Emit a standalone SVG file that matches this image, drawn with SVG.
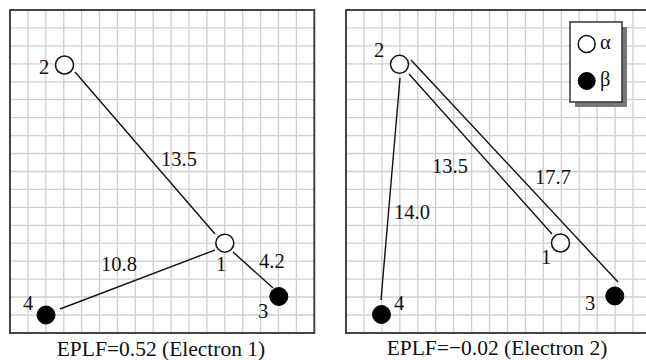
<svg xmlns="http://www.w3.org/2000/svg" width="646" height="360" viewBox="0 0 646 360">
<style>
.grid{stroke:#cfcfcf;stroke-width:1.3;fill:none}
.frame{stroke:#444;stroke-width:2;fill:none}
.edge{stroke:#111;stroke-width:1.4;fill:none}
.a{fill:#fff;stroke:#111;stroke-width:1.5}
.b{fill:#000;stroke:#000;stroke-width:1}
.t{font-size:20.5px;fill:#111}
.cap{font-size:21.5px;text-anchor:middle}
</style>
<rect width="646" height="360" fill="#fff"/>
<g id="panel-left">
<path class="grid" d="M27.9 10V333M45.8 10V333M63.7 10V333M81.6 10V333M99.5 10V333M117.4 10V333M135.3 10V333M153.2 10V333M171.1 10V333M189 10V333M206.9 10V333M224.8 10V333M242.7 10V333M260.6 10V333M278.5 10V333M296.4 10V333M10 27.9H314M10 45.9H314M10 63.8H314M10 81.8H314M10 99.7H314M10 117.6H314M10 135.6H314M10 153.5H314M10 171.5H314M10 189.4H314M10 207.3H314M10 225.3H314M10 243.2H314M10 261.2H314M10 279.1H314M10 297H314M10 315H314"/>
<rect class="frame" x="10" y="10" width="304.3" height="323"/>
</g>
<g id="panel-right">
<path class="grid" d="M363.9 10V333M381.9 10V333M399.8 10V333M417.8 10V333M435.7 10V333M453.6 10V333M471.6 10V333M489.5 10V333M507.5 10V333M525.4 10V333M543.3 10V333M561.3 10V333M579.2 10V333M597.2 10V333M615.1 10V333M633 10V333M346 27.9H646M346 45.9H646M346 63.8H646M346 81.8H646M346 99.7H646M346 117.6H646M346 135.6H646M346 153.5H646M346 171.5H646M346 189.4H646M346 207.3H646M346 225.3H646M346 243.2H646M346 261.2H646M346 279.1H646M346 297H646M346 315H646"/>
<path class="frame" d="M660 10H346V333H660"/>
</g>
<g id="connectors">
<line class="edge" x1="75" y1="72" x2="215" y2="234"/>
<line class="edge" x1="215" y1="250" x2="60" y2="309"/>
<line class="edge" x1="233" y1="252" x2="273" y2="288"/>
<line class="edge" x1="400" y1="78" x2="381" y2="300"/>
<line class="edge" x1="409" y1="74" x2="552" y2="234"/>
<line class="edge" x1="411" y1="60" x2="618" y2="282"/>
</g>
<g font-family="Liberation Serif, Times New Roman, serif">
<g id="L-node1"><circle class="a" cx="224.8" cy="243.2" r="9"/><text class="t" x="216" y="271">1</text></g>
<g id="L-node2"><circle class="a" cx="64.5" cy="65" r="9"/><text class="t" x="39" y="74">2</text></g>
<g id="L-node3"><circle class="b" cx="278.8" cy="296.5" r="9"/><text class="t" x="258" y="318">3</text></g>
<g id="L-node4"><circle class="b" cx="46" cy="315" r="9"/><text class="t" x="23" y="310">4</text></g>
<g id="L-labels">
<text class="t" x="161" y="166">13.5</text>
<text class="t" x="101" y="271">10.8</text>
<text class="t" x="259" y="268">4.2</text>
</g>
<g id="R-node1"><circle class="a" cx="560.5" cy="243" r="9"/><text class="t" x="541" y="264">1</text></g>
<g id="R-node2"><circle class="a" cx="399.5" cy="64.3" r="9"/><text class="t" x="374" y="57">2</text></g>
<g id="R-node3"><circle class="b" cx="614.8" cy="296" r="9"/><text class="t" x="585" y="310">3</text></g>
<g id="R-node4"><circle class="b" cx="381.5" cy="314.5" r="9"/><text class="t" x="394" y="310">4</text></g>
<g id="R-labels">
<text class="t" x="432" y="173">13.5</text>
<text class="t" x="535" y="184">17.7</text>
<text class="t" x="394" y="219">14.0</text>
</g>
<g id="legend">
<rect x="575" y="27" width="52" height="80" fill="#777"/>
<rect x="570" y="22" width="52" height="80" fill="#fff" stroke="#333" stroke-width="1.5"/>
<circle class="a" cx="586.7" cy="44" r="8.5"/>
<text class="t" x="600" y="49" font-size="22">α</text>
<circle class="b" cx="586.7" cy="81" r="8.5"/>
<text class="t" x="600" y="86" font-size="22">β</text>
</g>
<text class="t cap" x="161" y="356">EPLF=0.52 (Electron 1)</text>
<text class="t cap" x="497" y="355">EPLF=−0.02 (Electron 2)</text>
</g>
</svg>
